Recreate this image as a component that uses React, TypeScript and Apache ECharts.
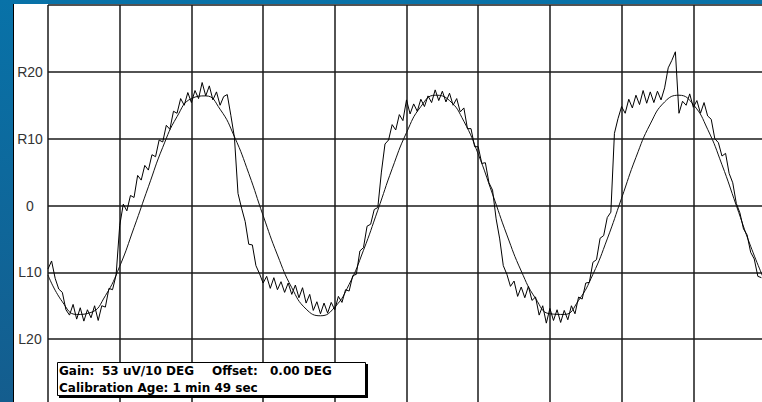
import { useEffect, useRef } from "react";
import * as echarts from "echarts";

// Noisy recorded trace, one sample every 0.5 x-units
const signal: number[] = [
  -9.5, -8.3, -10.9, -12.5, -13.0, -15.6, -16.4, -14.8, -17.0, -15.3, -17.3, -15.6, -16.8, -15.0, -17.2, -15.0, -15.2, -12.4, -12.6, -10.4,
  -3.0, 0.2, -0.8, 1.5, 1.2, 4.5, 3.8, 6.0, 5.3, 7.6, 7.3, 9.8, 9.5, 12.0, 11.4, 14.1, 13.8, 16.0, 15.0, 16.9,
  15.4, 17.2, 16.0, 18.4, 16.4, 17.9, 15.8, 17.0, 15.0, 16.3, 16.6, 13.5, 10.2, 1.8, -0.4, -2.4, -5.8, -5.9, -9.0, -10.2,
  -11.6, -10.6, -12.4, -10.8, -12.6, -11.4, -13.0, -11.6, -13.3, -11.9, -13.8, -12.3, -14.6, -13.3, -15.7, -14.4, -16.2, -14.6, -16.1, -14.5,
  -15.6, -13.6, -14.5, -12.6, -12.8, -10.5, -10.3, -6.8, -6.3, -3.1, -2.8, -0.6, -0.3, 5.0, 9.2, 9.8, 12.1, 11.3, 13.6, 12.7,
  15.8, 13.7, 15.2, 14.1, 15.9, 14.8, 16.4, 15.4, 17.3, 15.7, 17.1, 15.5, 16.8, 15.0, 16.0, 14.0, 14.6, 11.5, 11.5, 8.8,
  8.8, 6.3, 6.4, 3.4, 2.3, -2.0, -5.0, -9.0, -10.3, -12.1, -11.3, -13.6, -12.2, -13.8, -12.1, -14.2, -13.7, -16.4, -15.0, -17.6,
  -15.4, -17.2, -15.6, -17.5, -15.7, -17.1, -15.0, -16.2, -13.7, -14.0, -11.6, -11.5, -8.5, -8.1, -4.9, -4.5, -1.8, -1.0, 10.8, 13.0,
  14.8, 13.8, 15.9, 14.6, 16.5, 15.1, 17.2, 15.3, 17.0, 15.4, 17.1, 15.8, 17.6, 20.6, 21.7, 23.0, 13.8, 15.6, 15.0, 16.7,
  14.7, 15.7, 13.8, 15.4, 13.4, 12.9, 10.0, 9.4, 7.4, 7.8, 4.8, 3.4, 0.3, -1.1, -3.5, -4.4, -7.0, -8.0, -10.6, -10.8,
];
const SIGNAL_STEP = 0.5;

// Smooth fitted sine, one point every 2 x-units
const fit: number[] = [
  -10.4, -14.4, -16.3, -16.0, -13.5, -9.1, -3.3, 2.8, 8.7, 13.3,
  16.0, 16.4, 14.4, 10.3, 4.8, -1.5, -7.4, -12.3, -15.5, -16.5,
  -15.2, -11.8, -6.7, -0.7, 5.5, 10.9, 14.8, 16.5, 15.7, 12.6,
  7.7, 1.7, -4.4, -9.8, -13.9, -16.2, -16.3, -14.2, -10.3, -5.0,
  1.1, 7.2, 12.2, 15.5, 16.5, 15.1, 11.4, 6.1, 0.0, -6.1, -11.4,
];
const FIT_STEP = 2;

const yTickValues = [-20, -10, 0, 10, 20];
const yTickLabels = ["L20", "L10", "0", "R10", "R20"];

const infoLine1 = ["Gain:", "53 uV/10 DEG", "Offset:", "0.00 DEG"];
const infoLine1X = [59, 102, 212, 270];
const infoLine2 = "Calibration Age: 1 min 49 sec";

export default function App() {
  const ref = useRef<HTMLDivElement>(null);

  useEffect(() => {
    if (!ref.current) return;
    const chart = echarts.init(ref.current, null, { renderer: "svg" });
    const lineStyle = { color: "#1a1a1a", width: 1.5 };
    const textFont = { fontFamily: "DejaVu Sans", fontWeight: "bold" as const, fontSize: 12, fill: "#000" };
    chart.setOption({
      animation: false,
      backgroundColor: "transparent",
      grid: { left: 48, top: 5, width: 717, height: 401, outerBoundsMode: "none", containLabel: false },
      xAxis: {
        type: "value",
        min: 0,
        max: 100,
        interval: 10,
        axisLabel: { show: false },
        axisTick: { show: false },
        axisLine: { show: false },
        splitLine: { show: true, showMinLine: true, showMaxLine: false, lineStyle },
      },
      yAxis: {
        type: "value",
        min: -30,
        max: 30,
        interval: 10,
        axisTick: { show: false },
        axisLine: { show: false },
        axisLabel: {
          formatter: (v: number) => {
            const idx = yTickValues.indexOf(v);
            return idx >= 0 ? yTickLabels[idx] : "";
          },
          align: "center",
          margin: 18,
          fontFamily: "Liberation Sans",
          fontSize: 14,
          color: "#333",
        },
        splitLine: { show: true, showMinLine: false, showMaxLine: true, lineStyle },
      },
      series: [
        {
          type: "line",
          data: fit.map((v, k) => [k * FIT_STEP, v]),
          smooth: true,
          showSymbol: false,
          lineStyle: { color: "#111", width: 1 },
          silent: true,
        },
        {
          type: "line",
          data: signal.map((v, i) => [i * SIGNAL_STEP, v]),
          showSymbol: false,
          lineStyle: { color: "#000", width: 1 },
          silent: true,
        },
      ],
      graphic: [
        { type: "rect", z: 100, shape: { x: 59, y: 364, width: 309, height: 34 }, style: { fill: "#000" } },
        { type: "rect", z: 101, shape: { x: 57.5, y: 362.5, width: 308, height: 33 }, style: { fill: "#fff", stroke: "#000", lineWidth: 1 } },
        ...infoLine1.map((t, j) => ({
          type: "text",
          z: 102,
          x: infoLine1X[j],
          y: 371,
          style: { text: t, ...textFont, textVerticalAlign: "middle" },
        })),
        {
          type: "text",
          z: 102,
          x: 59,
          y: 388,
          style: { text: infoLine2, ...textFont, textVerticalAlign: "middle" },
        },
      ],
    });
    return () => chart.dispose();
  }, []);

  return (
    <div style={{ position: "absolute", left: 0, top: 0, width: 762, height: 402, overflow: "hidden", background: "linear-gradient(to bottom, #0872a8, #145d8e)" }}>
      <div style={{ position: "absolute", left: 13, top: 4, width: 749, height: 398, background: "#fff", borderLeft: "1px solid #000", boxSizing: "border-box" }} />
      <div ref={ref} style={{ position: "absolute", left: 0, top: 0, width: 762, height: 402 }} />
    </div>
  );
}
